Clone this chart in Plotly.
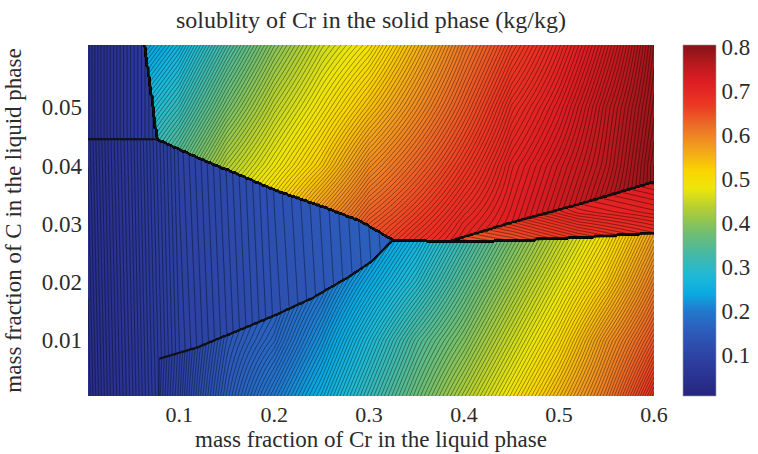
import numpy as np
import plotly.graph_objects as go

# ---------------------------------------------------------------------------
# Axis extents and ticks
# ---------------------------------------------------------------------------
X_RANGE = [0.004, 0.6]        # mass fraction of Cr in the liquid
Y_RANGE = [0.0004, 0.0607]    # mass fraction of C in the liquid
C_RANGE = [0.007, 0.805]      # Cr solubility in the solid (kg/kg)

x_ticks = [0.1, 0.2, 0.3, 0.4, 0.5, 0.6]
x_tick_labels = ["0.1", "0.2", "0.3", "0.4", "0.5", "0.6"]
y_ticks = [0.01, 0.02, 0.03, 0.04, 0.05]
y_tick_labels = ["0.01", "0.02", "0.03", "0.04", "0.05"]
c_ticks = [0.1, 0.2, 0.3, 0.4, 0.5, 0.6, 0.7, 0.8]
c_tick_labels = ["0.1", "0.2", "0.3", "0.4", "0.5", "0.6", "0.7", "0.8"]

# ---------------------------------------------------------------------------
# Phase boundaries (Cr, C) in the liquid
# ---------------------------------------------------------------------------
b1_cr = [0.0634, 0.0718, 0.0760, 0.0770]
b1_c = [0.0607, 0.0509, 0.0452, 0.0445]
b2_cr = [0.004, 0.077]
b2_c = [0.0445, 0.0445]
b3_cr = [0.077, 0.120, 0.166, 0.205, 0.250, 0.290, 0.325]
b3_c = [0.0445, 0.0413, 0.0382, 0.0355, 0.0330, 0.0305, 0.0272]
b4_cr = [0.325, 0.390, 0.450, 0.520, 0.600]
b4_c = [0.0272, 0.0269, 0.0271, 0.0276, 0.0284]
b5_cr = [0.385, 0.452, 0.520, 0.600]
b5_c = [0.0270, 0.0303, 0.0333, 0.0372]
b6_cr = [0.079, 0.120, 0.160, 0.200, 0.240, 0.280, 0.305, 0.325]
b6_c = [0.0068, 0.0088, 0.0115, 0.0142, 0.0172, 0.0210, 0.0238, 0.0272]

# ---------------------------------------------------------------------------
# Solubility tables of each phase field (rows: C, columns: Cr)
# ---------------------------------------------------------------------------
# upper field (above the three-phase line)
up_cr = [0.05, 0.10, 0.15, 0.20, 0.25, 0.30, 0.35, 0.40, 0.45, 0.50, 0.55, 0.60]
up_c = [0.025, 0.030, 0.040, 0.050, 0.061]
up_val = [
    [0.37, 0.43, 0.50, 0.56, 0.61, 0.66, 0.69, 0.71, 0.73, 0.750, 0.77, 0.79],
    [0.35, 0.41, 0.48, 0.53, 0.59, 0.64, 0.67, 0.70, 0.72, 0.745, 0.77, 0.79],
    [0.30, 0.36, 0.43, 0.48, 0.53, 0.59, 0.63, 0.67, 0.71, 0.735, 0.76, 0.79],
    [0.26, 0.31, 0.38, 0.44, 0.49, 0.54, 0.59, 0.64, 0.69, 0.720, 0.755, 0.785],
    [0.21, 0.26, 0.33, 0.395, 0.45, 0.49, 0.55, 0.61, 0.66, 0.700, 0.74, 0.78],
]
# narrow field between the two upper-right boundaries
sl_cr = [0.38, 0.45, 0.52, 0.60]
sl_c = [0.026, 0.032, 0.038]
sl_val = [
    [0.63, 0.64, 0.66, 0.68],
    [0.66, 0.68, 0.70, 0.71],
    [0.69, 0.71, 0.72, 0.73],
]
# lower field (low carbon)
lo_cr = [0.05, 0.10, 0.15, 0.20, 0.25, 0.30, 0.35, 0.40, 0.45, 0.50, 0.55, 0.60]
lo_c = [0.0, 0.01, 0.02, 0.03]
lo_val = [
    [0.055, 0.097, 0.15, 0.20, 0.25, 0.31, 0.37, 0.43, 0.49, 0.55, 0.61, 0.68],
    [0.055, 0.094, 0.14, 0.17, 0.22, 0.28, 0.34, 0.39, 0.45, 0.51, 0.58, 0.64],
    [0.055, 0.090, 0.13, 0.15, 0.19, 0.24, 0.29, 0.35, 0.41, 0.47, 0.53, 0.60],
    [0.055, 0.085, 0.12, 0.13, 0.15, 0.20, 0.25, 0.31, 0.37, 0.43, 0.49, 0.56],
]
# middle (low-Cr) field
mid_cr = [0.0, 0.05, 0.10, 0.20, 0.30, 0.35]
mid_c = [0.0, 0.045]
mid_val = [
    [0.035, 0.060, 0.088, 0.125, 0.155, 0.170],
    [0.038, 0.063, 0.092, 0.130, 0.160, 0.175],
]
# top-left corner field
tl_cr = [0.0, 0.04, 0.08]
tl_c = [0.044, 0.061]
tl_val = [
    [0.040, 0.060, 0.080],
    [0.040, 0.060, 0.080],
]

# colour stops of the colour bar: (value, rgb)
cmap_values = [0.007, 0.05, 0.10, 0.15, 0.20, 0.24, 0.28, 0.33, 0.38, 0.43,
               0.48, 0.52, 0.57, 0.62, 0.67, 0.72, 0.76, 0.805]
cmap_colors = ["rgb(38,38,125)", "rgb(42,50,145)", "rgb(45,68,165)",
               "rgb(45,90,185)", "rgb(35,120,205)", "rgb(10,170,225)",
               "rgb(30,185,215)", "rgb(70,185,165)", "rgb(115,190,110)",
               "rgb(175,205,55)", "rgb(238,230,10)", "rgb(250,212,0)",
               "rgb(242,160,30)", "rgb(236,110,40)", "rgb(235,55,35)",
               "rgb(222,30,35)", "rgb(185,25,30)", "rgb(130,20,25)"]


def bilinear(xn, yn, table, X, Y):
    xn = np.asarray(xn, float)
    yn = np.asarray(yn, float)
    t = np.asarray(table, float)
    Xc = np.clip(X, xn[0], xn[-1])
    Yc = np.clip(Y, yn[0], yn[-1])
    i = np.clip(np.searchsorted(xn, Xc) - 1, 0, len(xn) - 2)
    j = np.clip(np.searchsorted(yn, Yc) - 1, 0, len(yn) - 2)
    fx = (Xc - xn[i]) / (xn[i + 1] - xn[i])
    fy = (Yc - yn[j]) / (yn[j + 1] - yn[j])
    return (t[j, i] * (1 - fx) * (1 - fy) + t[j, i + 1] * fx * (1 - fy)
            + t[j + 1, i] * (1 - fx) * fy + t[j + 1, i + 1] * fx * fy)


# evaluation grid
xs = np.linspace(X_RANGE[0], X_RANGE[1], 420)
ys = np.linspace(Y_RANGE[0], Y_RANGE[1], 250)
X, Y = np.meshgrid(xs, ys)

# phase regions
y_upper_bound = np.where(
    X < b3_cr[0], b2_c[0],
    np.where(X <= b3_cr[-1], np.interp(X, b3_cr, b3_c), np.interp(X, b4_cr, b4_c)))
x_b1 = np.interp(Y, b1_c[::-1], b1_cr[::-1])
top_left = (Y >= b2_c[0]) & (X < x_b1)
above = (Y > y_upper_bound) & ~top_left
sliver = above & (X > b5_cr[0]) & (Y < np.interp(X, b5_cr, b5_c))
upper = above & ~sliver
y_b6 = np.where(X <= b6_cr[-1], np.interp(X, b6_cr, b6_c), np.interp(X, b4_cr, b4_c))
lower = ~above & ~top_left & (X >= b6_cr[0]) & (Y < y_b6)
middle = ~above & ~top_left & ~lower

z = np.zeros_like(X)
z[upper] = bilinear(up_cr, up_c, up_val, X, Y)[upper]
z[sliver] = bilinear(sl_cr, sl_c, sl_val, X, Y)[sliver]
z[lower] = bilinear(lo_cr, lo_c, lo_val, X, Y)[lower]
z[middle] = bilinear(mid_cr, mid_c, mid_val, X, Y)[middle]
z[top_left] = bilinear(tl_cr, tl_c, tl_val, X, Y)[top_left]
z = np.round(z, 4)

# isolines are spaced evenly on a stretched scale of the solubility,
# which keeps them close together at both ends of the range
z_iso = np.round(np.log((z + 0.04) / (0.9 - z)), 4)

span = C_RANGE[1] - C_RANGE[0]
colorscale = [[(v - C_RANGE[0]) / span, c] for v, c in zip(cmap_values, cmap_colors)]
colorscale[0][0] = 0.0
colorscale[-1][0] = 1.0

serif = "Liberation Serif"
ink = "#2b2b2b"
W, H = 758, 454
L, R, T, B = 88, 100, 45, 58
plot_w = W - L - R

fig = go.Figure()
fig.add_trace(go.Heatmap(
    x=xs, y=ys, z=z, zmin=C_RANGE[0], zmax=C_RANGE[1], zsmooth=False,
    colorscale=colorscale, hoverinfo="skip",
    colorbar=dict(
        x=(687 - L) / plot_w, xanchor="left", y=1, yanchor="top",
        thickness=33, thicknessmode="pixels",
        len=1, lenmode="fraction", xpad=0, ypad=0,
        outlinewidth=0.6, outlinecolor="#9a9a9a",
        tickvals=c_ticks, ticktext=c_tick_labels, ticks="",
        tickfont=dict(family=serif, size=23, color=ink),
    ),
))
# dense isolines giving the hatched texture
fig.add_trace(go.Contour(
    x=xs, y=ys, z=z_iso, showscale=False, hoverinfo="skip",
    contours=dict(coloring="none", start=-2.9, end=2.6, size=0.02),
    line=dict(color="rgba(0,0,0,0.42)", width=1, smoothing=0),
))
# phase boundaries
for bx, by in [(b1_cr, b1_c), (b2_cr, b2_c), (b3_cr, b3_c), (b4_cr, b4_c),
               (b5_cr, b5_c), (b6_cr, b6_c)]:
    fig.add_trace(go.Scatter(x=bx, y=by, mode="lines", hoverinfo="skip",
                             line=dict(color="#111", width=1.9),
                             showlegend=False))

fig.update_layout(
    width=W, height=H,
    margin=dict(l=L, r=R, t=T, b=B),
    paper_bgcolor="white", plot_bgcolor="white",
    showlegend=False,
    title=dict(text="solublity of Cr in the solid phase (kg/kg)",
               x=0.5, xref="paper", xanchor="center",
               y=1 - 20 / H, yref="container", yanchor="middle",
               font=dict(family=serif, size=24, color=ink)),
    xaxis=dict(range=X_RANGE, tickvals=x_ticks, ticktext=x_tick_labels,
               showgrid=False, zeroline=False, ticks="", showline=False,
               automargin=False, ticklabelstandoff=3,
               tickfont=dict(family=serif, size=22, color=ink),
               title=dict(text="mass fraction of Cr in the liquid phase",
                          font=dict(family=serif, size=23, color=ink),
                          standoff=2)),
    yaxis=dict(range=Y_RANGE, tickvals=y_ticks, ticktext=y_tick_labels,
               showgrid=False, zeroline=False, ticks="", showline=False,
               automargin=False, ticklabelstandoff=5,
               tickfont=dict(family=serif, size=23, color=ink),
               title=dict(text="mass fraction of C in the liquid phase",
                          font=dict(family=serif, size=23, color=ink),
                          standoff=13)),
)

fig.write_html("out.html")
